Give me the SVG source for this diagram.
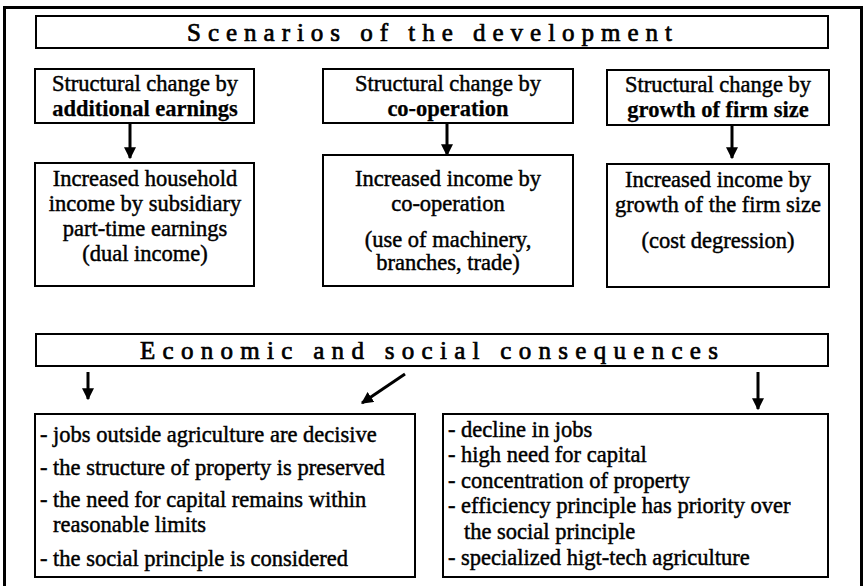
<svg xmlns="http://www.w3.org/2000/svg" width="863" height="586" viewBox="0 0 863 586">
<style>
.box{fill:#fff;stroke:#000;stroke-width:2}
.t{font-family:"Liberation Serif","Times New Roman",serif;font-size:22.5px;fill:#000;stroke:#000;stroke-width:0.45}
.c{text-anchor:middle}
.b{font-weight:bold;stroke-width:0.25}
.h{font-family:"Liberation Serif","Times New Roman",serif;font-size:25px;fill:#000;stroke:#000;stroke-width:0.7}
.ln{stroke:#000;stroke-width:3;fill:none}
</style>
<defs>
<marker id="ah" viewBox="0 0 10 10" refX="9" refY="5" markerWidth="4" markerHeight="4" orient="auto" markerUnits="strokeWidth">
<path d="M0,0 L10,5 L0,10 z" fill="#000"/>
</marker>
</defs>
<rect x="0" y="0" width="863" height="586" fill="#fff"/>
<path d="M4.5,600 V7.5 H861.5 V600" fill="none" stroke="#000" stroke-width="3"/>

<g id="header1">
<rect class="box" x="36" y="16" width="792" height="32"/>
<text class="h" x="187" y="41" textLength="485" lengthAdjust="spacing">Scenarios of the development</text>
</g>

<g id="sc1">
<rect class="box" x="35" y="69" width="219" height="54"/>
<text class="t c" x="145" y="91">Structural change by</text>
<text class="t c b" x="145" y="116">additional earnings</text>
</g>
<g id="sc2">
<rect class="box" x="323" y="69" width="250" height="54"/>
<text class="t c" x="448" y="91">Structural change by</text>
<text class="t c b" x="448" y="116">co-operation</text>
</g>
<g id="sc3">
<rect class="box" x="607" y="70" width="222" height="55"/>
<text class="t c" x="718" y="92">Structural change by</text>
<text class="t c b" x="718" y="117">growth of firm size</text>
</g>

<g id="res1">
<rect class="box" x="35" y="163" width="219" height="123"/>
<text class="t c" x="145" y="186">Increased household</text>
<text class="t c" x="145" y="211">income by subsidiary</text>
<text class="t c" x="145" y="236">part-time earnings</text>
<text class="t c" x="145" y="261">(dual income)</text>
</g>
<g id="res2">
<rect class="box" x="323" y="155" width="250" height="131"/>
<text class="t c" x="448" y="186">Increased income by</text>
<text class="t c" x="448" y="211">co-operation</text>
<text class="t c" x="448" y="247">(use of machinery,</text>
<text class="t c" x="448" y="270">branches, trade)</text>
</g>
<g id="res3">
<rect class="box" x="607" y="164" width="222" height="123"/>
<text class="t c" x="718" y="187">Increased income by</text>
<text class="t c" x="718" y="212">growth of the firm size</text>
<text class="t c" x="718" y="248">(cost degression)</text>
</g>

<g id="header2">
<rect class="box" x="36" y="334" width="792" height="32"/>
<text class="h" x="140" y="359" textLength="578" lengthAdjust="spacing">Economic and social consequences</text>
</g>

<g id="cons1">
<rect class="box" x="35" y="414" width="380" height="163"/>
<text class="t" x="40" y="442">- jobs outside agriculture are decisive</text>
<text class="t" x="40" y="475">- the structure of property is preserved</text>
<text class="t" x="40" y="507">- the need for capital remains within</text>
<text class="t" x="53" y="532">reasonable limits</text>
<text class="t" x="40" y="566">- the social principle is considered</text>
</g>
<g id="cons2">
<rect class="box" x="443" y="414" width="385" height="163"/>
<text class="t" x="448" y="437">- decline in jobs</text>
<text class="t" x="448" y="462">- high need for capital</text>
<text class="t" x="448" y="488">- concentration of property</text>
<text class="t" x="448" y="513">- efficiency principle has priority over</text>
<text class="t" x="464" y="539">the social principle</text>
<text class="t" x="448" y="565">- specialized higt-tech agriculture</text>
</g>

<g id="connectors">
<line class="ln" x1="130" y1="123" x2="130" y2="158" marker-end="url(#ah)"/>
<line class="ln" x1="447" y1="123" x2="447" y2="155" marker-end="url(#ah)"/>
<line class="ln" x1="732" y1="125" x2="732" y2="158" marker-end="url(#ah)"/>
<line class="ln" x1="88" y1="372" x2="88" y2="399" marker-end="url(#ah)"/>
<line class="ln" x1="405" y1="374" x2="362" y2="403" marker-end="url(#ah)"/>
<line class="ln" x1="758" y1="372" x2="758" y2="409" marker-end="url(#ah)"/>
</g>
</svg>
